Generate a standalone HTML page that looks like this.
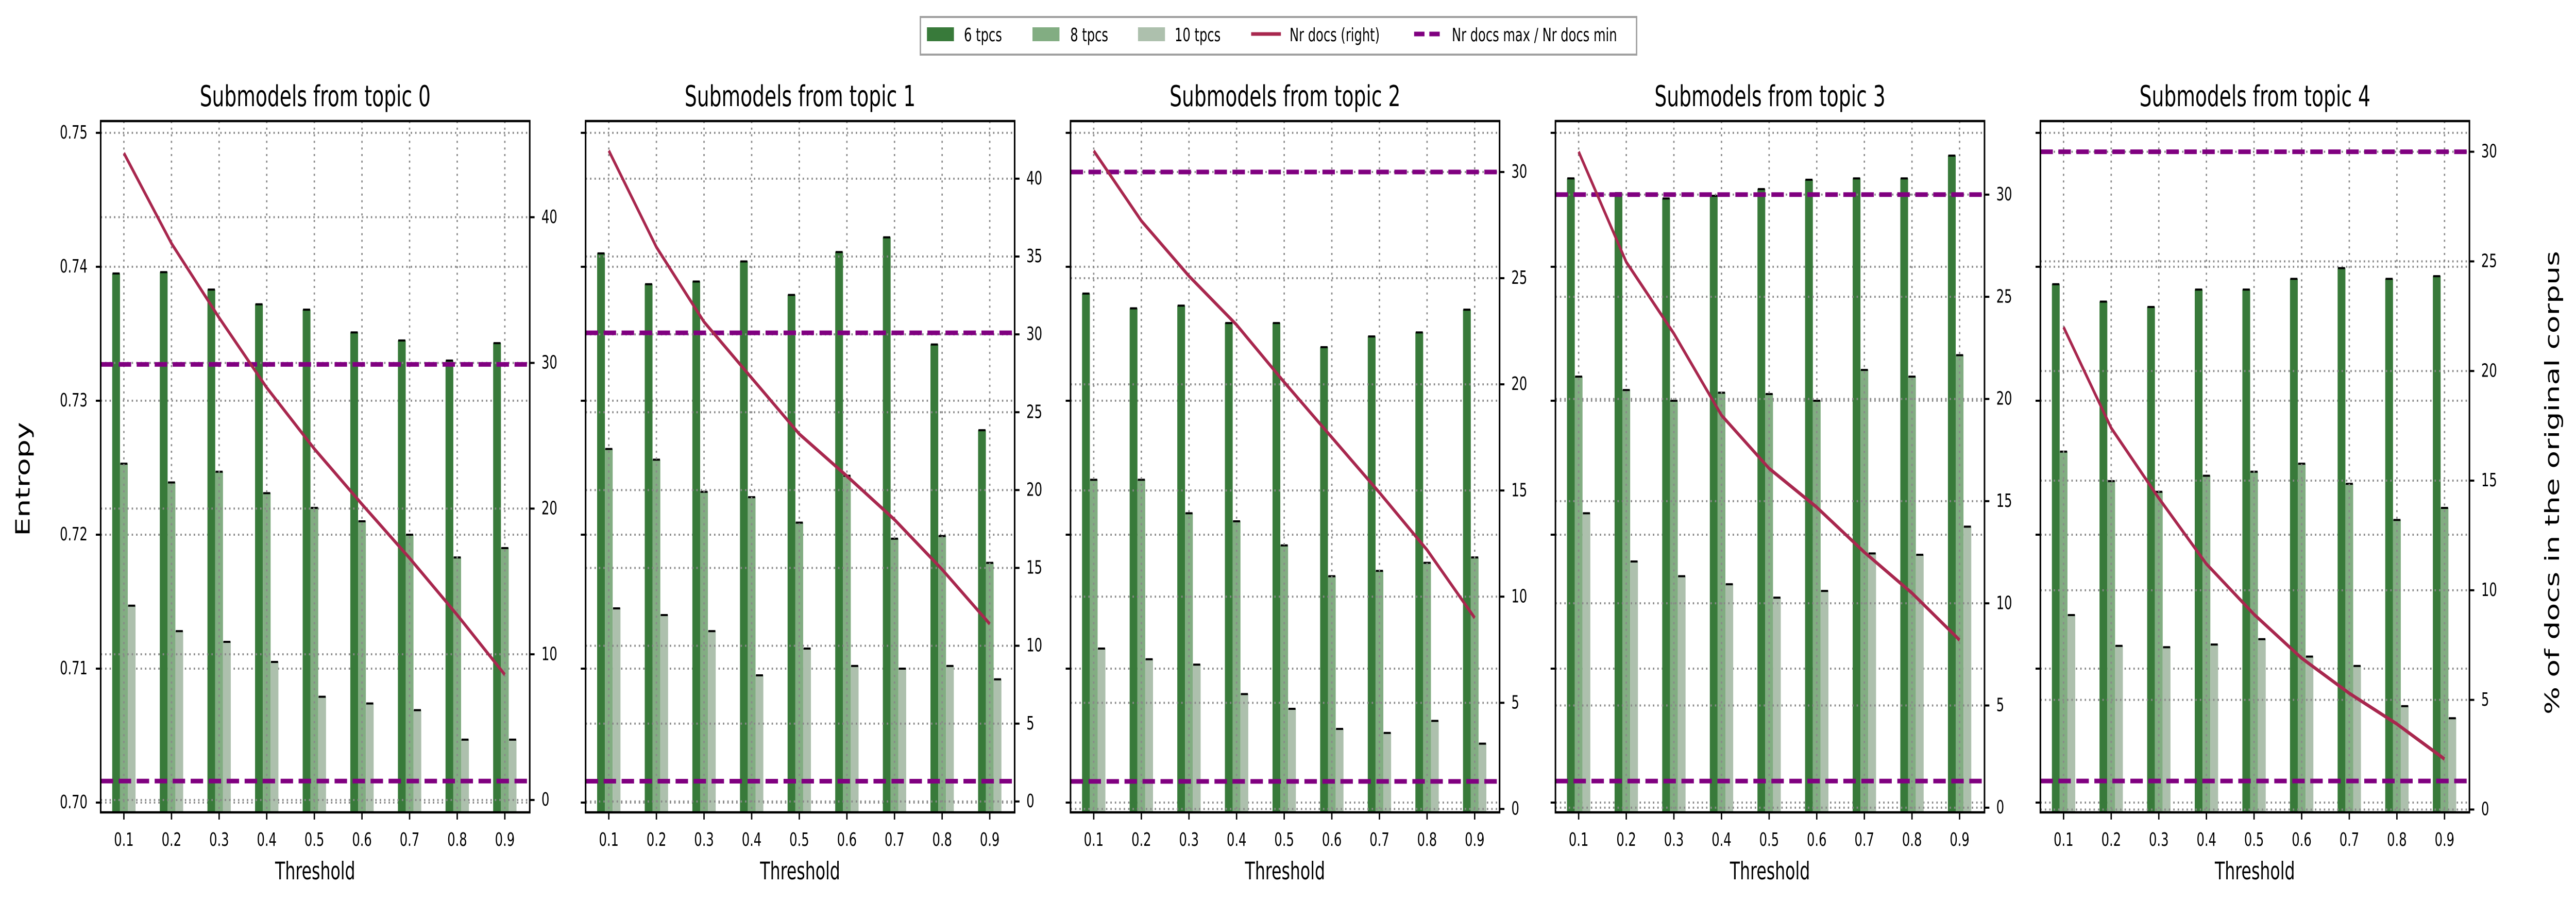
<!DOCTYPE html>
<html><head><meta charset="utf-8">
<style>
html,body{margin:0;padding:0;background:#fff;overflow:hidden;width:100%;height:100%;}
svg{display:block;width:100vw;height:100vh;font-family:"DejaVu Sans","Liberation Sans",sans-serif;}
</style></head>
<body>
<svg id="chart" xmlns="http://www.w3.org/2000/svg" viewBox="0 0 7445 1751" preserveAspectRatio="none">
<rect x="0" y="0" width="7445" height="1751" fill="#fff"/>
<g>
  <rect x="2660" y="33" width="2070" height="73" fill="#fff" stroke="#a0a0a0" stroke-width="4"/>
  <rect x="2679" y="53" width="78" height="27" fill="#387a3a"/>
  <text x="2786" y="80" font-size="36">6 tpcs</text>
  <rect x="2984" y="53" width="78" height="27" fill="#82ad82"/>
  <text x="3093" y="80" font-size="36">8 tpcs</text>
  <rect x="3289" y="53" width="78" height="27" fill="#adc0ad"/>
  <text x="3395" y="80" font-size="36">10 tpcs</text>
  <line x1="3616" y1="66" x2="3702" y2="66" stroke="#a8274e" stroke-width="7"/>
  <text x="3727" y="80" font-size="36">Nr docs (right)</text>
  <line x1="4087" y1="66" x2="4161" y2="66" stroke="#800080" stroke-width="9" stroke-dasharray="30,14"/>
  <text x="4196" y="80" font-size="36">Nr docs max / Nr docs min</text>
</g>
<text x="67" y="930" font-size="57" text-anchor="middle" dominant-baseline="central" transform="rotate(-90 67 930)">Entropy</text>
<text x="7377" y="937" font-size="57" text-anchor="middle" dominant-baseline="central" transform="rotate(-90 7377 937)">% of docs in the original corpus</text>
</svg>
<script>
const thresholds = [0.1,0.2,0.3,0.4,0.5,0.6,0.7,0.8,0.9];
const thresholdLabels = ["0.1","0.2","0.3","0.4","0.5","0.6","0.7","0.8","0.9"];
const topicTitles = ["Submodels from topic 0","Submodels from topic 1","Submodels from topic 2","Submodels from topic 3","Submodels from topic 4"];
const entropy6 = [
  [0.7395,0.7396,0.7383,0.7372,0.7368,0.7351,0.7345,0.7330,0.7343],
  [0.7410,0.7387,0.7389,0.7404,0.7379,0.7411,0.7422,0.7342,0.7278],
  [0.7380,0.7369,0.7371,0.7358,0.7358,0.7340,0.7348,0.7351,0.7368],
  [0.7466,0.7455,0.7451,0.7453,0.7458,0.7465,0.7466,0.7466,0.7483],
  [0.7387,0.7374,0.7370,0.7383,0.7383,0.7391,0.7399,0.7391,0.7393]
];
const entropy8 = [
  [0.7253,0.7239,0.7247,0.7231,0.7220,0.7210,0.7200,0.7183,0.7190],
  [0.7264,0.7256,0.7232,0.7228,0.7209,0.7244,0.7197,0.7199,0.7179],
  [0.7241,0.7241,0.7216,0.7210,0.7192,0.7169,0.7173,0.7179,0.7183],
  [0.7318,0.7308,0.7300,0.7306,0.7305,0.7300,0.7323,0.7318,0.7334],
  [0.7262,0.7240,0.7232,0.7244,0.7247,0.7253,0.7238,0.7211,0.7220]
];
const entropy10 = [
  [0.7147,0.7128,0.7120,0.7105,0.7079,0.7074,0.7069,0.7047,0.7047],
  [0.7145,0.7140,0.7128,0.7095,0.7115,0.7102,0.7100,0.7102,0.7092],
  [0.7115,0.7107,0.7103,0.7081,0.7070,0.7055,0.7052,0.7061,0.7044],
  [0.7216,0.7180,0.7169,0.7163,0.7153,0.7158,0.7186,0.7185,0.7206],
  [0.7140,0.7117,0.7116,0.7118,0.7122,0.7109,0.7102,0.7072,0.7063]
];
const nrDocs = [
  [44.4,38.2,33.1,28.3,24.1,20.3,16.6,12.7,8.6],
  [41.8,35.6,30.8,27.2,23.6,20.9,18.1,14.9,11.4],
  [31.0,27.7,25.1,22.8,20.1,17.5,14.9,12.2,9.0],
  [32.1,26.7,23.2,19.2,16.6,14.7,12.5,10.5,8.2],
  [22.0,17.4,14.2,11.2,8.9,6.9,5.3,3.9,2.3]
];
const nrDocsMax = [29.9,30.1,30.0,30.0,30.0];
const nrDocsMin = [1.3,1.3,1.3,1.3,1.3];
const rightMin = [-0.85,-0.7,-0.16,-0.23,-0.13];
const rightMax = [46.6,43.7,32.4,33.6,31.4];
const rightTicks = [
  [0,10,20,30,40],
  [0,5,10,15,20,25,30,35,40],
  [0,5,10,15,20,25,30],
  [0,5,10,15,20,25,30],
  [0,5,10,15,20,25,30]
];
const leftTicks = [0.70,0.71,0.72,0.73,0.74,0.75];
const leftTickLabels = ["0.70","0.71","0.72","0.73","0.74","0.75"];

const NS = "http://www.w3.org/2000/svg";
const svg = document.getElementById('chart');
function mk(tag, attrs, parent){
  const e = document.createElementNS(NS, tag);
  for (const k in attrs) e.setAttribute(k, attrs[k]);
  (parent||svg).appendChild(e);
  return e;
}
const Y_TOP = 235, Y_BOT = 1577, PW = 1240;
const X_MIN = 0.0513, X_MAX = 0.9523;
const L_MIN = 0.69927, L_MAX = 0.75088;
const BAR_W = 22.5;
const GRID = {stroke:"#888888","stroke-width":4,"stroke-dasharray":"4,8.8"};

for (let p = 0; p < 5; p++) {
  const x0 = 291 + 1401.5 * p;
  const xs = t => x0 + (t - X_MIN) / (X_MAX - X_MIN) * PW;
  const yl = v => Y_BOT - (v - L_MIN) / (L_MAX - L_MIN) * (Y_BOT - Y_TOP);
  const yr = v => Y_BOT - (v - rightMin[p]) / (rightMax[p] - rightMin[p]) * (Y_BOT - Y_TOP);

  const g = mk('g', {});
  
  

  const clipId = 'clip' + p;
  const cp = mk('clipPath', {id: clipId}, g);
  mk('rect', {x: x0, y: Y_TOP, width: PW, height: Y_BOT - Y_TOP}, cp);

  leftTicks.forEach(v => {
    const l = mk('line', Object.assign({x1: x0, x2: x0 + PW, y1: yl(v), y2: yl(v)}, GRID), g);
    
    
  });

  const series = [entropy6[p], entropy8[p], entropy10[p]];
  const colors = ["#387a3a", "#82ad82", "#adc0ad"];
  const names = ["bar-6tpcs", "bar-8tpcs", "bar-10tpcs"];
  const bg = mk('g', {'clip-path': 'url(#' + clipId + ')'}, g);
  for (let s = 0; s < 3; s++) {
    thresholds.forEach((t, i) => {
      const cx = xs(t) + (s - 1) * BAR_W;
      const top = yl(series[s][i]);
      const r = mk('rect', {x: cx - BAR_W / 2, y: top, width: BAR_W, height: Y_BOT - top, fill: colors[s]}, bg);
      
      
      const c = mk('line', {x1: cx - BAR_W / 2 + 1, x2: cx + BAR_W / 2 - 1, y1: top, y2: top, stroke: "#000", "stroke-width": 4}, bg);
      
      
    });
  }

  thresholds.forEach(t => {
    const l = mk('line', Object.assign({x1: xs(t), x2: xs(t), y1: Y_TOP, y2: Y_BOT}, GRID), g);
    
    
  });
  rightTicks[p].forEach(v => {
    const l = mk('line', Object.assign({x1: x0, x2: x0 + PW, y1: yr(v), y2: yr(v)}, GRID), g);
    
    
  });

  [nrDocsMax[p], nrDocsMin[p]].forEach((v, k) => {
    const l = mk('line', {x1: x0, x2: x0 + PW, y1: yr(v), y2: yr(v), stroke: "#800080", "stroke-width": 9, "stroke-dasharray": "36,16"}, g);
    
    
  });

  const pts = thresholds.map((t, i) => xs(t) + ',' + yr(nrDocs[p][i])).join(' ');
  const pl = mk('polyline', {points: pts, fill: "none", stroke: "#a8274e", "stroke-width": 7, "stroke-linejoin": "round"}, g);
  
  

  const sp = mk('rect', {x: x0, y: Y_TOP, width: PW, height: Y_BOT - Y_TOP, fill: "none", stroke: "#000", "stroke-width": 4.5}, g);
  
  

  thresholds.forEach((t, i) => {
    mk('line', {x1: xs(t), x2: xs(t), y1: Y_BOT, y2: Y_BOT + 14, stroke: "#000", "stroke-width": 4}, g);
    const tx = mk('text', {x: xs(t), y: 1642, "font-size": 36, "text-anchor": "middle"}, g);
    tx.textContent = thresholdLabels[i];
    
    
  });
  const xl = mk('text', {x: x0 + PW / 2, y: 1707, "font-size": 47, "text-anchor": "middle"}, g);
  xl.textContent = "Threshold";
  
  

  leftTicks.forEach((v, i) => {
    mk('line', {x1: x0 - 14, x2: x0, y1: yl(v), y2: yl(v), stroke: "#000", "stroke-width": 4}, g);
    if (p === 0) {
      const tx = mk('text', {x: x0 - 38, y: yl(v), "font-size": 36, "text-anchor": "end", "dominant-baseline": "central"}, g);
      tx.textContent = leftTickLabels[i];
      
      
    }
  });

  rightTicks[p].forEach(v => {
    mk('line', {x1: x0 + PW, x2: x0 + PW + 14, y1: yr(v), y2: yr(v), stroke: "#000", "stroke-width": 4}, g);
    const tx = mk('text', {x: x0 + PW + 34, y: yr(v), "font-size": 36, "dominant-baseline": "central"}, g);
    tx.textContent = String(v);
    
    
  });

  const tt = mk('text', {x: x0 + PW / 2, y: 206, "font-size": 56, "text-anchor": "middle"}, g);
  tt.textContent = topicTitles[p];
  
  
}
</script>
</body></html>
